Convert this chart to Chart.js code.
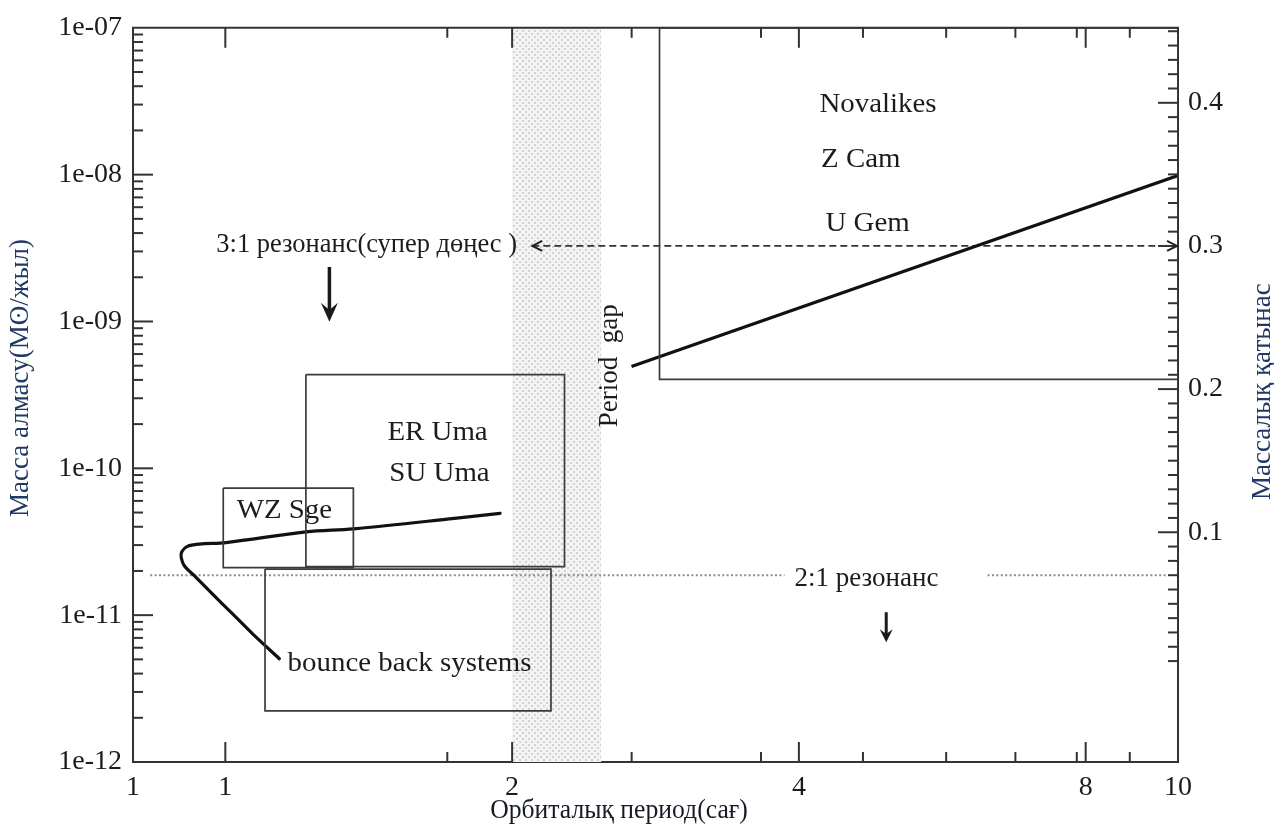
<!DOCTYPE html>
<html>
<head>
<meta charset="utf-8">
<title>Орбиталық период — масса алмасу</title>
<script src="https://cdn.jsdelivr.net/npm/chart.js@4.4.1/dist/chart.umd.min.js"></script>
<style>
  html, body { margin: 0; padding: 0; background: #ffffff; }
  #wrap { width: 1274px; height: 825px; }
</style>
</head>
<body>
<div id="wrap"><canvas id="c" width="1274" height="825"></canvas></div>
<script>
// ---- axes -------------------------------------------------------------
const xTickValues = [0.8, 1, 2, 4, 8, 10];
const xTickLabels = ['1', '1', '2', '4', '8', '10'];
const xMinorTicks = [1.71, 2.67, 3.65, 4.67, 5.71, 6.75, 7.83, 8.9];
const yTickValues = [1e-12, 1e-11, 1e-10, 1e-9, 1e-8, 1e-7];
const yTickLabels = ['1e-12', '1e-11', '1e-10', '1e-09', '1e-08', '1e-07'];
const qTickValues = [0.1, 0.2, 0.3, 0.4];
const qTickLabels = ['0.1', '0.2', '0.3', '0.4'];

// ---- evolutionary tracks (period in h, mass transfer in Msun/yr) -------
const longTrackP    = [2.669, 10];
const longTrackMdot = [4.94e-10, 9.86e-9];
const shortTrackP    = [1.9427, 1.7396, 1.3627, 1.2154, 1.0017, 0.9391, 0.9123, 0.9001,
                        0.8990, 0.9057, 0.9316, 0.9698, 1.0178, 1.0682, 1.1395];
const shortTrackMdot = [4.94e-11, 4.56e-11, 3.87e-11, 3.69e-11, 3.12e-11, 3.05e-11, 2.94e-11, 2.70e-11,
                        2.46e-11, 2.17e-11, 1.81e-11, 1.39e-11, 1.02e-11, 7.46e-12, 5.05e-12];

// ---- class regions -----------------------------------------------------
const regionNames   = ['Novalikes / Z Cam / U Gem', 'ER Uma / SU Uma', 'WZ Sge', 'bounce back systems'];
const regionPmin    = [2.856, 1.215, 0.995, 1.1007];
const regionPmax    = [10, 2.27, 1.3627, 2.197];
const regionMdotMin = [4.03e-10, 2.14e-11, 2.11e-11, 2.23e-12];
const regionMdotMax = [1e-7, 4.35e-10, 7.34e-11, 2.06e-11];

// ---- period gap and resonances ------------------------------------------
const periodGap   = [2.0, 2.48];
const q31         = 0.3;
const q31Span     = [2.10, 10];
const q21         = 0.07;
const q21SpanA    = [0.834, 3.863];
const q21SpanB    = [6.311, 9.73];
const downArrowP    = [1.286, 4.94];
const downArrowFrom = [2.35e-9, 1.047e-11];
const downArrowTo   = [9.97e-10, 6.55e-12];

// ---- styling -----------------------------------------------------------
const SERIF = '"Liberation Serif", "Times New Roman", serif';
const INK = '#1c1c1c';
const AXIS = '#333333';
const NAVY = '#1f3864';

const pts = (xs, ys) => xs.map((v, i) => ({ x: v, y: ys[i] }));
function boxPoints(i) {
  const a = regionPmin[i], b = regionPmax[i], lo = regionMdotMin[i], hi = regionMdotMax[i];
  return [{x: a, y: hi}, {x: b, y: hi}, {x: b, y: lo}, {x: a, y: lo}, {x: a, y: hi}];
}

const datasets = [];
regionNames.forEach((name, i) => datasets.push({
  label: name, data: boxPoints(i), yAxisID: 'y',
  showLine: true, pointRadius: 0, borderColor: '#3a3a3a', borderWidth: 1.7, tension: 0
}));
datasets.push({
  label: 'track above gap', data: pts(longTrackP, longTrackMdot), yAxisID: 'y',
  showLine: true, pointRadius: 0, borderColor: '#111111', borderWidth: 3.2, tension: 0
});
datasets.push({
  label: 'track below gap', data: pts(shortTrackP, shortTrackMdot), yAxisID: 'y',
  showLine: true, pointRadius: 0, borderColor: '#111111', borderWidth: 3.2, tension: 0.35,
  borderCapStyle: 'round', borderJoinStyle: 'round'
});
datasets.push({
  label: '3:1', data: q31Span.map(p => ({ x: p, y: q31 })), yAxisID: 'y2',
  showLine: true, pointRadius: 0, borderColor: '#333333', borderWidth: 1.7, borderDash: [7, 4]
});
[q21SpanA, q21SpanB].forEach(span => datasets.push({
  label: '2:1', data: span.map(p => ({ x: p, y: q21 })), yAxisID: 'y2',
  showLine: true, pointRadius: 0, borderColor: '#8c8c8c', borderWidth: 2, borderDash: [2, 2.4]
}));

function stipple(ctx) {
  const c = document.createElement('canvas');
  c.width = 6; c.height = 6;
  const g = c.getContext('2d');
  g.fillStyle = '#f4f4f4'; g.fillRect(0, 0, 6, 6);
  g.fillStyle = '#d2d2d2';
  g.fillRect(0, 0, 2, 2); g.fillRect(3, 3, 2, 2);
  return ctx.createPattern(c, 'repeat');
}

function label(ctx, text, x, y, o) {
  ctx.save();
  ctx.translate(x, y);
  if (o.rotate) ctx.rotate(o.rotate);
  ctx.scale(o.stretch || 1, 1);
  ctx.font = (o.size || 27) + 'px ' + SERIF;
  ctx.fillStyle = o.color || INK;
  ctx.textAlign = o.align || 'left';
  ctx.textBaseline = 'middle';
  ctx.fillText(text, 0, 0);
  ctx.restore();
}

const notes = [
  { t: 'Novalikes', p: 4.204, m: 3.0e-8, s: 1.07 },
  { t: 'Z Cam', p: 4.22, m: 1.252e-8, s: 1.07 },
  { t: 'U Gem', p: 4.266, m: 4.61e-9, s: 1.07 },
  { t: '3:1 резонанс(супер дөңес )', p: 0.9785, m: 3.32e-9, s: 0.98 },
  { t: 'ER Uma', p: 1.4795, m: 1.733e-10, s: 1.07 },
  { t: 'SU Uma', p: 1.4866, m: 9.13e-11, s: 1.07 },
  { t: 'WZ Sge', p: 1.0277, m: 5.13e-11, s: 1.07 },
  { t: 'bounce back systems', p: 1.1625, m: 4.67e-12, s: 1.07 },
  { t: '2:1 резонанс', p: 3.958, m: 1.77e-11, s: 1.0 }
];

const decor = {
  id: 'decor',
  beforeDatasetsDraw(chart) {
    const { ctx, chartArea: a, scales: { x } } = chart;
    const x0 = x.getPixelForValue(periodGap[0]);
    const x1 = x.getPixelForValue(periodGap[1]);
    ctx.save();
    ctx.fillStyle = stipple(ctx);
    ctx.fillRect(x0, a.top, x1 - x0, a.bottom - a.top);
    ctx.restore();
  },
  afterDatasetsDraw(chart) {
    const { ctx, chartArea: a, scales: { x, y, y2 } } = chart;
    ctx.save();
    ctx.strokeStyle = AXIS;
    ctx.lineWidth = 2;
    ctx.lineCap = 'butt';

    // frame top edge
    ctx.beginPath(); ctx.moveTo(a.left - 1, a.top); ctx.lineTo(a.right + 1, a.top); ctx.stroke();

    // inward tick marks
    const tick = (x0, y0, x1, y1) => { ctx.beginPath(); ctx.moveTo(x0, y0); ctx.lineTo(x1, y1); ctx.stroke(); };
    [1, 2, 4, 8].forEach(v => {
      const px = x.getPixelForValue(v);
      tick(px, a.bottom, px, a.bottom - 20);
      tick(px, a.top, px, a.top + 20);
    });
    xMinorTicks.forEach(v => {
      const px = x.getPixelForValue(v);
      tick(px, a.bottom, px, a.bottom - 10);
      tick(px, a.top, px, a.top + 10);
    });
    yTickValues.slice(1, -1).forEach(v => {
      const py = y.getPixelForValue(v);
      tick(a.left, py, a.left + 20, py);
    });
    for (let e = -12; e < -7; e++) {
      for (let k = 2; k <= 9; k++) {
        const py = y.getPixelForValue(k * Math.pow(10, e));
        tick(a.left, py, a.left + 10, py);
      }
    }
    qTickValues.forEach(v => {
      const py = y2.getPixelForValue(v);
      tick(a.right, py, a.right - 20, py);
    });
    for (let k = 1; k <= 45; k++) {
      if (k % 10 === 0) continue;
      const py = y2.getPixelForValue(k / 100);
      tick(a.right, py, a.right - 10, py);
    }

    // chevrons on the 3:1 resonance line
    ctx.strokeStyle = '#222222';
    ctx.lineWidth = 2;
    const qy = y2.getPixelForValue(q31);
    const lx = x.getPixelForValue(q31Span[0]);
    const rx = x.getPixelForValue(q31Span[1]) - 1;
    ctx.beginPath();
    ctx.moveTo(lx + 10, qy - 5); ctx.lineTo(lx, qy); ctx.lineTo(lx + 10, qy + 5);
    ctx.moveTo(rx - 10, qy - 5); ctx.lineTo(rx, qy); ctx.lineTo(rx - 10, qy + 5);
    ctx.stroke();

    // downward arrows
    ctx.fillStyle = '#1a1a1a';
    ctx.strokeStyle = '#1a1a1a';
    downArrowP.forEach((p, i) => {
      const px = x.getPixelForValue(p);
      const top = y.getPixelForValue(downArrowFrom[i]);
      const tip = y.getPixelForValue(downArrowTo[i]);
      const big = i === 0;
      const h = big ? 19 : 13, w = big ? 17 : 13;
      ctx.lineWidth = big ? 3.5 : 3;
      ctx.beginPath(); ctx.moveTo(px, top); ctx.lineTo(px, tip - h * 0.5); ctx.stroke();
      ctx.beginPath();
      ctx.moveTo(px, tip);
      ctx.lineTo(px - w / 2, tip - h);
      ctx.lineTo(px, tip - h * 0.62);
      ctx.lineTo(px + w / 2, tip - h);
      ctx.closePath(); ctx.fill();
    });

    // region and resonance labels
    notes.forEach(n => label(ctx, n.t, x.getPixelForValue(n.p), y.getPixelForValue(n.m),
      { size: 27, stretch: n.s }));
    label(ctx, 'Period  gap', x.getPixelForValue(2.536), y.getPixelForValue(5.0e-10),
      { size: 27, align: 'center', rotate: -Math.PI / 2 });

    // axis titles
    label(ctx, 'Орбиталық период(сағ)', 619, 811, { size: 27, align: 'center', stretch: 0.95, color: '#151a24' });
    label(ctx, 'Масса алмасу(Mʘ/жыл)', 21, 517, { size: 27, align: 'left', rotate: -Math.PI / 2, color: NAVY });
    label(ctx, 'Массалық қатынас', 1263, 500, { size: 27, align: 'left', rotate: -Math.PI / 2, color: NAVY });
    ctx.restore();
  }
};

const tickFont = { family: SERIF, size: 28 };

new Chart(document.getElementById('c'), {
  type: 'scatter',
  data: { datasets },
  options: {
    responsive: false,
    animation: false,
    events: [],
    layout: { padding: { top: 25, left: 0, right: 0, bottom: 0 } },
    plugins: { legend: { display: false }, tooltip: { enabled: false } },
    scales: {
      x: {
        type: 'logarithmic', min: 0.8, max: 10, position: 'bottom',
        afterBuildTicks: s => { s.ticks = xTickValues.map(v => ({ value: v })); },
        afterFit: s => { s.height = 63; },
        grid: { display: false, drawTicks: false },
        border: { display: true, color: AXIS, width: 2 },
        ticks: { autoSkip: false, maxRotation: 0, padding: 9, font: tickFont, color: INK,
                 callback: (v, i) => xTickLabels[i] }
      },
      y: {
        type: 'logarithmic', min: 1e-12, max: 1e-7, position: 'left',
        afterBuildTicks: s => { s.ticks = yTickValues.map(v => ({ value: v })); },
        afterFit: s => { s.width = 133; },
        grid: { display: false, drawTicks: false },
        border: { display: true, color: AXIS, width: 2 },
        ticks: { autoSkip: false, padding: 11, font: tickFont, color: INK,
                 callback: (v, i) => yTickLabels[i] }
      },
      y2: {
        type: 'linear', min: -0.0605, max: 0.4524, position: 'right',
        afterBuildTicks: s => { s.ticks = qTickValues.map(v => ({ value: v })); },
        afterFit: s => { s.width = 96; },
        grid: { display: false, drawTicks: false },
        border: { display: true, color: AXIS, width: 2 },
        ticks: { autoSkip: false, padding: 10, font: tickFont, color: INK,
                 callback: (v, i) => qTickLabels[i] }
      }
    }
  },
  plugins: [decor]
});
</script>
</body>
</html>
